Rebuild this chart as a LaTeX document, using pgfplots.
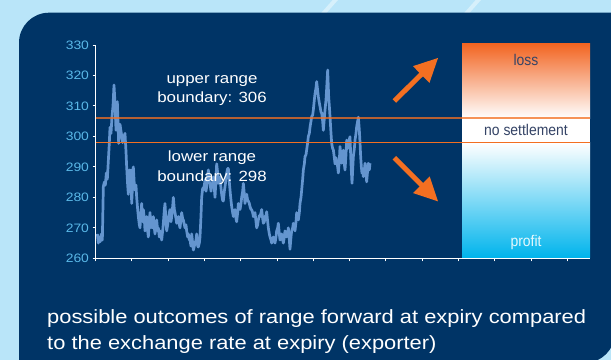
\documentclass[border=0pt]{standalone}
\usepackage{pgfplots}
\pgfplotsset{compat=1.18}
\usepackage{pgfplotstable}
\usepackage{fontspec}
\setmainfont{Liberation Sans}[FakeStretch=1.14]
\newfontfamily\boxfont{Liberation Sans}[FakeStretch=0.9]
\usetikzlibrary{arrows.meta}
\definecolor{navy}{HTML}{003466}
\definecolor{lightbg}{HTML}{B9E5F9}
\definecolor{streak}{HTML}{D6F0FB}
\definecolor{ticklab}{HTML}{5AB8E8}
\definecolor{linecol}{HTML}{6495CF}
\definecolor{orng}{HTML}{F36F21}
\definecolor{boxorange}{HTML}{F26522}
\definecolor{boxcyan}{HTML}{00B4EC}
\definecolor{boxtext}{HTML}{354466}

\pgfplotstableread{
X V
172 268
175 265
178 267
181 265.5
184 268
187 266
190 283.5
193 285
196 284
199 288
202 286
205 292
208 298
210 303
213 301
216 306.5
219 310
222 316.9
225 311
228 302
232 311.4
236 297.7
240 304
244 301
248 298
252 300
255 301
258 295
260 290
263 284
265 281
268 289
270 286
273 289
275 278
278 285
280 290
283 284
285 282.4
288 284
290 280
293 276
295 273.7
298 271
300 270
303 275
305 278
308 272
310 276
313 273
315 269
318 271
320 273.7
323 269
325 267
328 272
330 275
333 270
335 271.5
338 270
340 273.7
343 270
345 268
348 271
350 272.6
353 269
355 270
358 267
360 269
363 268
365 266
368 269
370 271.5
373 276
375 278
378 272
380 269
383 271
385 272.6
388 275
390 276
393 272
395 273.7
398 277
400 280
403 276
405 275
408 273
410 271.5
413 273
415 273.7
418 271
420 270
423 273
425 275
428 273
430 272.6
433 271
435 270
438 271
440 269
443 267
445 268
448 266
450 266
453 264
455 268
458 265
460 262.7
463 264
465 265
468 266
470 268
473 264
475 263.7
478 265
480 267
483 274
485 280
488 283
490 282.4
493 284
495 285.7
498 282
500 283.5
503 287
505 289
508 285
510 284.6
513 282
515 283.5
518 285
520 286.7
523 283
525 280
528 286
530 291
533 288
535 284.6
538 285
540 286.7
543 283
545 281
548 279
550 278.8
553 282
555 283.5
558 286
560 288
563 289.5
565 289.5
568 285
570 282.4
573 279
575 277
578 275
580 273.7
583 275
585 276
588 273
590 272
593 275
595 278
598 277
600 276
603 278
605 280
608 282
610 284.6
613 281
615 278
618 280
620 281
623 279
625 278.8
628 278
630 277
633 276
635 276
638 275
640 273.7
643 274
645 275
648 272
650 270
653 271
655 272.6
658 274
660 273.7
663 275
665 276
668 273
670 271.5
673 272
675 273.7
678 274
680 275.3
683 272
685 270
688 268
690 267
693 266
695 265
698 266
700 267
703 266
705 265
708 267
710 269
713 270
715 271.5
718 268
720 266
723 267
725 268
728 266
730 265
733 267
735 269
738 268
740 267
743 268
745 270
748 266
750 263
753 267
755 269
758 270
760 271.5
763 270
765 269
768 272
770 275
773 273
775 272.6
778 275
780 278
783 280
785 282.4
788 286
790 289
793 291
795 293.4
798 294
800 295.6
803 298
805 300
808 301
810 303
813 305
815 306.5
818 307
820 308.7
823 312
825 314
828 316
830 318
833 315
835 313
838 311
840 309.8
843 308
845 307.7
848 305
850 302
853 306
855 308.7
858 312
860 315.8
863 321.8
866 313
868 310
870 306.5
873 301
875 297.7
878 296
880 295.6
883 293
885 291
888 293
890 292
893 290
895 288
898 292
900 296.7
905 291.2
908 293
910 295.5
913 291
915 289
918 294
920 298.8
923 296
925 297.7
928 299
930 299.9
933 291
936 284.6
938 289
940 293.3
943 296
945 298.8
948 301
950 303.2
953 305
955 306.3
958 302
960 298
962 293.3
964 290
966 287.9
968 289
970 286.8
973 289
975 291.2
978 288
980 285.1
983 289
985 291.2
988 289
990 291.2
}\rate

\begin{document}
\begin{tikzpicture}[x=1bp,y=1bp]
\path[use as bounding box] (0,0) rectangle (611,359);
\clip (0,0) rectangle (611,359);
\fill[lightbg] (-5,-5) rectangle (616,364);
\draw[streak, line width=4bp] (338,362) -- (322,344);
\draw[streak, line width=4bp] (481,362) -- (465,344);
\fill[navy] (19,-10) -- (19,316.3) arc[start angle=180, end angle=90, radius=30] -- (640,346.3) -- (640,-10) -- cycle;
\fill[lightbg] (615,-10) -- (615,26) arc[start angle=0, end angle=-90, radius=30] -- (585,-10) -- cycle;
\fill[lightbg] (585,-10) rectangle (620,-4);
\fill[lightbg] (615,-10) rectangle (620,30);
\begin{axis}[
  at={(95.5bp,100.7bp)}, anchor=south west,
  scale only axis, width=494.5bp, height=213.3bp,
  xmin=166.5, xmax=1650, ymin=260, ymax=330,
  axis lines=left,
  axis line style={-, white, line width=1.2bp},
  ytick={260,270,...,330},
  xtick={166.5,275.4,384.3,493.2,602.1,711,819.9,928.8,1037.7,1146.6,1255.5,1364.4,1473.3,1582.2},
  xticklabels={},
  tick align=outside, major tick length=3bp,
  tick style={white, line width=1bp},
  yticklabel style={font=\fontsize{12.2bp}{13bp}\selectfont, text=ticklab},
  /pgf/number format/assume math mode=true,
  clip=false,
]
\shade[top color=boxorange, bottom color=white] (axis cs:1266,306) rectangle (axis cs:1650,330.4);
\fill[white] (axis cs:1266,298) rectangle (axis cs:1650,306);
\shade[top color=white, bottom color=boxcyan] (axis cs:1266,260.2) rectangle (axis cs:1650,298);
\addplot[linecol, line width=2.7bp, no marks, line join=round] table[x=X, y=V] {\rate};
\addplot[orng, opacity=0.75, line width=1.5bp, no marks] coordinates {(166.5,306) (1650,306)};
\addplot[orng, line width=1.5bp, no marks] coordinates {(166.5,298) (1650,298)};
\end{axis}
\begin{scope}[every node/.style={inner sep=0pt, text=white, font=\fontsize{14.8bp}{17bp}\selectfont}]
\node[anchor=base] at (212,275.7) {upper range};
\node[anchor=base] at (212,256.3) {boundary: 306};
\node[anchor=base] at (212,197.3) {lower range};
\node[anchor=base] at (212,178) {boundary: 298};
\end{scope}
\node[anchor=base, inner sep=0pt, text=boxtext, font=\boxfont\fontsize{15.5bp}{17bp}\selectfont] at (526,294) {loss};
\node[anchor=base, inner sep=0pt, text=boxtext, font=\boxfont\fontsize{15.5bp}{17bp}\selectfont] at (526,224) {no settlement};
\node[anchor=base, inner sep=0pt, text=white!90!boxcyan, font=\boxfont\fontsize{15.5bp}{17bp}\selectfont] at (526,113) {profit};
\draw[orng, line width=5bp, -{Triangle[length=24bp, width=22bp]}] (394.3,258) -- (438.3,301.3);
\draw[orng, line width=5bp, -{Triangle[length=24bp, width=22bp]}] (394.3,201.3) -- (438.3,157.3);
\node[anchor=base west, inner sep=0pt, text=white, font=\fontsize{19.2bp}{22bp}\selectfont] at (47,35.7) {possible outcomes of range forward at expiry compared};
\node[anchor=base west, inner sep=0pt, text=white, font=\fontsize{19.2bp}{22bp}\selectfont] at (47,9.7) {to the exchange rate at expiry (exporter)};
\end{tikzpicture}
\end{document}
